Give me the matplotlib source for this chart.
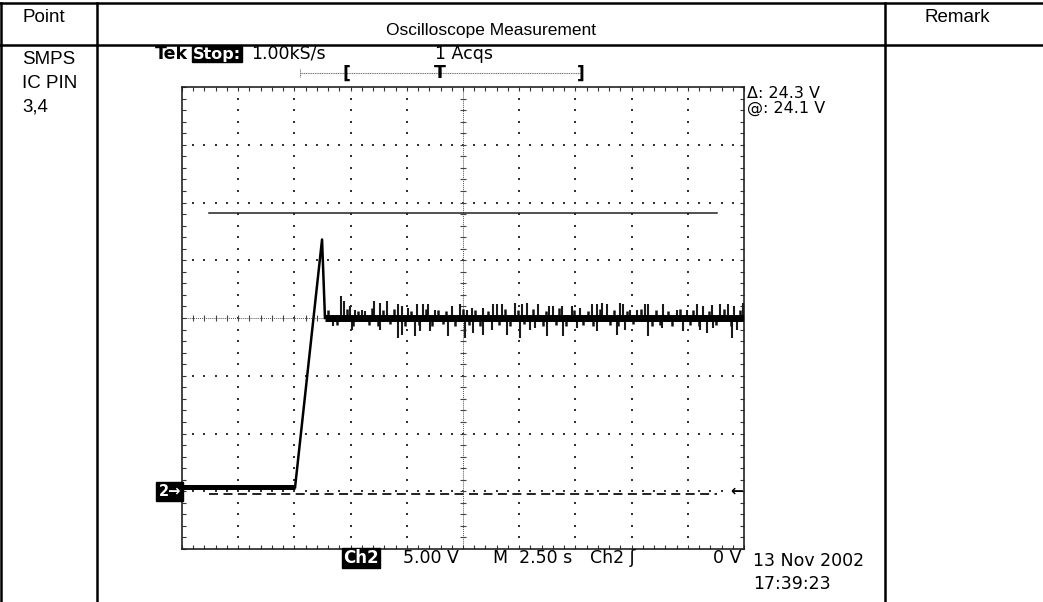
import matplotlib
matplotlib.use("Agg")
import matplotlib.pyplot as plt
from matplotlib.lines import Line2D
from matplotlib.ticker import MultipleLocator

# --- table text ---
header_labels = ["Point", "Oscilloscope Measurement", "Remark"]
point_label = ["SMPS", "IC PIN", "3,4"]

# --- scope settings (5 V/div, 2.5 s/div, 10 x 8 divisions, ground 1 div above bottom) ---
t_range = (0.0, 25.0)
v_range = (-5.0, 35.0)

# --- Ch2 trace (time in s, voltage in V) ---
pre_t = [0.0, 5.03]
pre_v = [0.35, 0.35]
ramp_t = [5.03, 6.23, 6.36]
ramp_v = [0.35, 21.8, 15.0]
run_t = [6.36, 25.0]
run_v = [15.0, 15.0]

# noise spikes on the 15 V level
spike_up_t = [7.06, 7.21, 7.47, 7.70, 7.99, 8.14, 8.54, 8.81, 9.11, 9.61, 9.77, 10.07,
              10.44, 10.72, 10.94, 11.25, 12.00, 12.37, 12.66, 12.89, 13.40, 13.85, 14.00,
              14.22, 14.81, 15.11, 15.33, 15.85, 16.34, 16.52, 16.89, 17.33, 17.70, 18.22,
              18.45, 18.67, 18.89, 19.48, 19.63, 19.93, 20.23, 20.59, 20.74, 21.41, 22.00,
              22.45, 22.89, 23.19, 23.56, 23.93, 24.30, 24.55, 24.95]
spike_up_v = [16.9, 16.5, 16.0, 15.7, 15.7, 15.6, 16.5, 16.3, 16.5, 16.2, 16.0, 15.9,
              16.2, 16.2, 16.2, 15.7, 16.0, 16.2, 15.7, 15.9, 15.9, 16.2, 16.2,
              16.2, 16.3, 16.2, 16.3, 16.2, 16.0, 16.0, 16.0, 16.0, 15.9, 16.2,
              16.2, 16.3, 16.2, 16.3, 16.2, 15.7, 15.7, 16.2, 16.2, 16.2, 15.7,
              15.7, 16.2, 16.0, 16.1, 16.2, 16.2, 16.0, 16.3]
spike_dn_t = [6.73, 7.55, 8.81, 9.62, 9.77, 10.36, 10.59, 11.03, 11.85, 12.59, 12.96,
              13.40, 13.78, 14.44, 15.03, 15.48, 15.70, 16.22, 16.96, 17.56, 18.45, 19.33,
              19.70, 20.74, 21.34, 22.30, 23.04, 23.34, 23.63, 24.45, 24.67]
spike_dn_v = [14.3, 14.0, 14.0, 13.3, 13.5, 13.4, 13.9, 13.9, 13.4, 13.3, 13.7,
              13.5, 14.0, 13.5, 13.3, 14.0, 14.1, 13.4, 13.4, 14.1, 13.9, 13.5,
              14.0, 13.4, 14.1, 13.9, 14.0, 13.7, 14.1, 13.3, 14.0]

# short fuzz around the band
fuzz_t = [6.50, 6.90, 7.35, 7.60, 7.85, 8.30, 8.45, 8.70, 8.95, 9.25, 9.45, 9.90, 10.20,
          10.55, 10.85, 11.10, 11.40, 11.60, 11.75, 12.15, 12.50, 12.75, 13.05, 13.25,
          13.60, 14.10, 14.35, 14.60, 14.95, 15.20, 15.60, 16.05, 16.20, 16.65, 16.75,
          17.10, 17.45, 17.85, 18.05, 18.30, 18.60, 19.05, 19.20, 19.40, 19.80, 20.05,
          20.40, 20.90, 21.10, 21.25, 21.60, 21.80, 22.15, 22.60, 22.75, 23.00, 23.45,
          23.75, 24.10, 24.40, 24.80]
fuzz_v = [15.7, 14.4, 15.8, 14.3, 15.6, 14.4, 15.9, 14.3, 15.7, 14.5, 15.8, 14.3, 15.6,
          14.4, 15.8, 14.3, 15.7, 14.5, 15.6, 14.3, 15.8, 14.4, 15.7, 14.3,
          15.6, 14.4, 15.8, 14.3, 15.7, 14.5, 15.8, 14.3, 15.6, 14.4, 15.9,
          14.3, 15.7, 14.4, 15.6, 14.3, 15.8, 14.4, 15.7, 14.3, 15.6, 14.5,
          15.8, 14.3, 15.7, 14.4, 15.6, 14.3, 15.8, 14.4, 15.7, 14.3, 15.6,
          14.4, 15.8, 14.3, 15.7]

# --- cursors ---
cursor_active = 24.1
cursor_delta = 24.3
cursor_t = [1.2, 23.8]

W, H = 1043, 602


def fx(x):
    return x / W


def fy(y):
    return 1 - y / H


fig = plt.figure(figsize=(W / 100, H / 100), dpi=100)
fig.patch.set_facecolor("white")

# table grid
lw_tab = 1.8
for y in (2.5, 45):
    fig.add_artist(Line2D([0, 1], [fy(y), fy(y)], color="black", lw=lw_tab, transform=fig.transFigure))
for x in (1, 97, 885):
    fig.add_artist(Line2D([fx(x), fx(x)], [fy(2.5), 0], color="black", lw=lw_tab, transform=fig.transFigure))

tab_font = dict(family="Liberation Sans", color="black")
fig.text(fx(22), fy(17), header_labels[0], ha="left", va="center", fontsize=13.5, **tab_font)
fig.text(fx(491), fy(31), header_labels[1], ha="center", va="center", fontsize=12.5, **tab_font)
fig.text(fx(925), fy(17), header_labels[2], ha="left", va="center", fontsize=13.5, **tab_font)
for i, s in enumerate(point_label):
    fig.text(fx(22), fy(60 + 23.5 * i), s, ha="left", va="center", fontsize=13.5, **tab_font)

# scope screen
ax = fig.add_axes([fx(182), fy(549), (744 - 182) / W, (549 - 87) / H])
ax.set_xlim(*t_range)
ax.set_ylim(*v_range)
ax.set_facecolor("white")
for sp in ax.spines.values():
    sp.set_color("#222222")
    sp.set_linewidth(1.2)
ax.xaxis.set_major_locator(MultipleLocator(2.5))
ax.xaxis.set_minor_locator(MultipleLocator(0.5))
ax.yaxis.set_major_locator(MultipleLocator(5))
ax.yaxis.set_minor_locator(MultipleLocator(1))
ax.tick_params(which="both", direction="in", length=3, width=0.8, color="#333333",
               top=True, right=True, labelbottom=False, labelleft=False)

# dotted graticule
t0, t1 = t_range
v0, v1 = v_range
gx, gy = [], []
for k in range(1, 10):
    if k == 5:
        continue
    for j in range(int(v0) + 1, int(v1)):
        gx.append(t0 + 2.5 * k)
        gy.append(j)
for m in range(1, 8):
    if m == 4:
        continue
    for i in range(1, 50):
        gx.append(t0 + 0.5 * i)
        gy.append(v0 + 5 * m)
ax.scatter(gx, gy, s=1.2, marker="s", color="#333333", linewidths=0, zorder=1)

# centre cross with sub-division ticks
ax.axvline(12.5, color="#555555", lw=0.7, ls=(0, (1, 1)), zorder=1)
ax.axhline(15, color="#555555", lw=0.7, ls=(0, (1, 1)), zorder=1)
ax.plot([12.5] * 39, list(range(-4, 35)), ls="none", marker="_", ms=5, mew=0.8, color="#444444", zorder=1)
ax.plot([0.5 * i for i in range(1, 50)], [15] * 49, ls="none", marker="|", ms=5, mew=0.8, color="#444444", zorder=1)

# cursors
ax.plot(cursor_t, [cursor_active] * 2, color="#222222", lw=1.1, zorder=2)
ax.plot(cursor_t, [cursor_active - cursor_delta] * 2, color="#111111", lw=1.3,
        dashes=(5, 3), zorder=2)

# trace
ax.plot(pre_t, pre_v, color="black", lw=3.6, solid_capstyle="butt", zorder=4)
ax.plot(ramp_t, ramp_v, color="black", lw=1.8, zorder=4)
ax.plot(run_t, run_v, color="black", lw=5.0, solid_capstyle="butt", zorder=4)
ax.vlines(spike_up_t, 15, spike_up_v, color="#1a1a1a", lw=1.5, zorder=3)
ax.vlines(spike_dn_t, spike_dn_v, 15, color="#1a1a1a", lw=1.5, zorder=3)
ax.vlines(fuzz_t, 15, fuzz_v, color="#111111", lw=1.8, zorder=3)

# ground and trigger markers
ax.text(-0.002, 0, "2\u2192", transform=ax.get_yaxis_transform(), ha="right", va="center",
        fontsize=10.5, fontweight="bold", color="white", family="DejaVu Sans",
        bbox=dict(boxstyle="square,pad=0.14", fc="black", ec="black"), clip_on=False)
ax.text(0.998, 0, "\u2190", transform=ax.get_yaxis_transform(), ha="right", va="center",
        fontsize=11, fontweight="bold", color="black", family="DejaVu Sans")

# scope readouts
sc = dict(family="DejaVu Sans", fontsize=12.5, color="black")
fig.text(fx(155), fy(54), "Tek", ha="left", va="center", fontweight="bold", **sc)
fig.text(fx(193), fy(54), "Stop:", ha="left", va="center", fontweight="bold",
         family="DejaVu Sans", fontsize=11.5, color="white",
         bbox=dict(boxstyle="square,pad=0.06", fc="black", ec="black"))
fig.text(fx(251), fy(54), "1.00kS/s", ha="left", va="center", **sc)
fig.text(fx(435), fy(54), "1 Acqs", ha="left", va="center", **sc)

# record position bar
fig.add_artist(Line2D([fx(300), fx(582)], [fy(73), fy(73)], color="#777777", lw=0.8,
                      ls=(0, (1, 0.6)), transform=fig.transFigure))
fig.add_artist(Line2D([fx(300), fx(300)], [fy(69), fy(77)], color="#777777", lw=0.8,
                      ls=(0, (1, 0.6)), transform=fig.transFigure))
fig.text(fx(346), fy(74), "[", ha="center", va="center", fontweight="bold", **sc)
fig.text(fx(440), fy(73), "T", ha="center", va="center", fontweight="bold", **sc)
fig.text(fx(581), fy(74), "]", ha="center", va="center", fontweight="bold", **sc)

cur_font = dict(family="DejaVu Sans", fontsize=11.5, color="black")
fig.text(fx(747), fy(93), "\u0394: %.1f V" % cursor_delta, ha="left", va="center", **cur_font)
fig.text(fx(747), fy(108), "@: %.1f V" % cursor_active, ha="left", va="center", **cur_font)

fig.text(fx(343), fy(558), "Ch2", ha="left", va="center", fontweight="bold",
         family="DejaVu Sans", fontsize=12, color="white",
         bbox=dict(boxstyle="square,pad=0.06", fc="black", ec="black"))
fig.text(fx(403), fy(558), "5.00 V", ha="left", va="center", **sc)
fig.text(fx(493), fy(558), "M  2.50 s", ha="left", va="center", **sc)
fig.text(fx(590), fy(558), "Ch2 \u0283", ha="left", va="center", **sc)
fig.text(fx(741), fy(558), "0 V", ha="right", va="center", **sc)
fig.text(fx(753), fy(561), "13 Nov 2002", ha="left", va="center", **sc)
fig.text(fx(753), fy(584), "17:39:23", ha="left", va="center", **sc)

fig.savefig("out.png", dpi=100, facecolor="white")
